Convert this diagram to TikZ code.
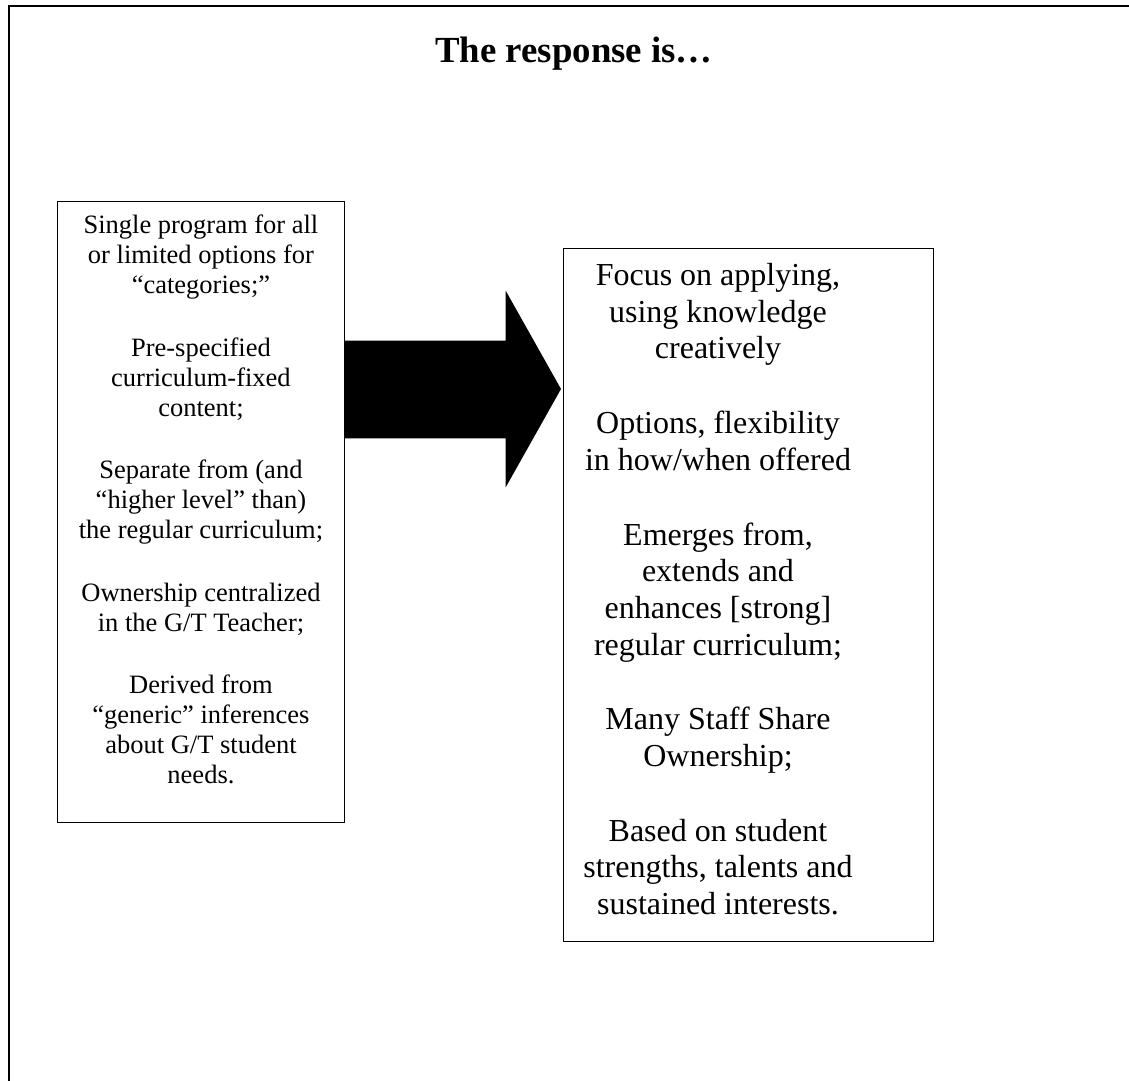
\documentclass[tikz,border=0pt]{standalone}
\usepackage{fontspec}
\setmainfont{Liberation Serif}
\usetikzlibrary{positioning}
\tikzset{
  panel/.style={draw, line width=1.2pt, anchor=north west, inner sep=0pt},
  oldtext/.style={align=center, inner sep=0pt, anchor=north,
    font=\fontsize{26.5}{30}\selectfont},
  newtext/.style={align=center, inner sep=0pt, anchor=north,
    font=\fontsize{32}{36.7}\selectfont},
}
\begin{document}
\begin{tikzpicture}[x=1pt,y=-1pt]
  \useasboundingbox (0,0) rectangle (1129,1080);
  \clip (0,0) rectangle (1129,1080);
  % page frame (cut off at right and bottom)
  \draw[line width=2.4pt] (1140,5.8) -- (8.7,5.8) -- (8.7,1090);
  % title
  \node[font=\bfseries\fontsize{36.8}{44}\selectfont, anchor=base] (title) at (574,62) {The response is…};
  % boxes
  \node[panel, minimum width=287.3, minimum height=620.7] (old) at (56.7,201) {};
  \node[panel, minimum width=370.3, minimum height=693] (new) at (562.7,248) {};
  % texts
  \node[oldtext] (oldlist) at (old.center |- 0,214.9) {%
    Single program for all\\ or limited options for\\ “categories;”\\[32.5pt]
    Pre-specified\\ curriculum-fixed\\ content;\\[32.5pt]
    Separate from (and\\ “higher level” than)\\ the regular curriculum;\\[32.5pt]
    Ownership centralized\\ in the G/T Teacher;\\[32.5pt]
    Derived from\\ “generic” inferences\\ about G/T student\\ needs.};
  \node[newtext] (newlist) at (718,263.1) {%
    Focus on applying,\\ using knowledge\\ creatively\\[38pt]
    Options, flexibility\\ in how/when offered\\[38pt]
    Emerges from,\\ extends and\\ enhances [strong]\\ regular curriculum;\\[38pt]
    Many Staff Share\\ Ownership;\\[38pt]
    Based on student\\ strengths, talents and\\ sustained interests.};
  % block arrow
  \coordinate (tip) at (561,389);
  \fill (old.east |- 0,340.7) -- (505.7,340.7) -- (505.7,290.7) -- (tip)
    -- (505.7,487.3) -- (505.7,438.3) -- (old.east |- 0,438.3) -- cycle;
\end{tikzpicture}
\end{document}
